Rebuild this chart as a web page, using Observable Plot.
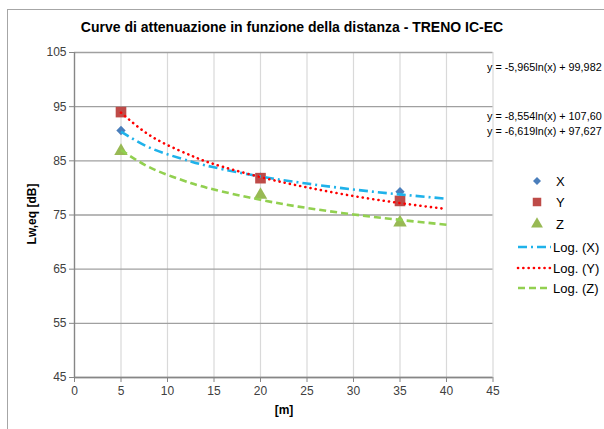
<!DOCTYPE html>
<html><head><meta charset="utf-8">
<script src="https://cdn.jsdelivr.net/npm/d3@7"></script>
<script src="https://cdn.jsdelivr.net/npm/@observablehq/plot@0.6"></script>
<style>
body{margin:0;background:#fff;font-family:"Liberation Sans",Arial,sans-serif;}
#wrap{position:relative;width:604px;height:429px;overflow:hidden;background:#fff;}
#frame{position:absolute;left:7px;top:9px;width:700px;height:500px;border:1.5px solid #a6a6a6;box-sizing:border-box;}
#chart{position:absolute;left:0;top:0;}
#title{position:absolute;left:0;width:584px;top:19px;text-align:center;font-weight:bold;font-size:14px;color:#000;white-space:nowrap;}
#ylab{position:absolute;left:32px;top:214px;transform:translate(-50%,-50%) rotate(-90deg);font-weight:bold;font-size:12px;white-space:nowrap;}
#xlab{position:absolute;left:284px;top:410px;transform:translate(-50%,-50%);font-weight:bold;font-size:12px;}
.eq{position:absolute;left:487px;font-size:10.8px;white-space:nowrap;color:#000;transform:translateY(-50%);}
.leg{position:absolute;left:0;top:0;}
.legtext{position:absolute;font-size:13px;white-space:nowrap;transform:translateY(-50%);}
</style></head><body>
<div id="wrap">
  <div id="frame"></div>
  <div id="chart"></div>
  <div id="title"></div>
  <div id="ylab"></div>
  <div id="xlab"></div>
  <div id="eqs"></div>
  <div id="legend"></div>
</div>
<script>
const titleText = "Curve di attenuazione in funzione della distanza - TRENO IC-EC";
const yLabel = "Lw,eq [dB]";
const xLabel = "[m]";
const xTicks = [0,5,10,15,20,25,30,35,40,45];
const yTicks = [45,55,65,75,85,95,105];

const distances = [5, 20, 35];
const seriesX = [90.6, 82.0, 79.3];
const seriesY = [94.0, 81.8, 77.6];
const seriesZ = [86.8, 78.7, 73.6];

const trendDistances = [5, 7.5, 10, 12.5, 15, 20, 25, 30, 35, 40];
const trendX = [90.4, 87.9, 86.2, 84.9, 83.8, 82.1, 80.8, 79.7, 78.8, 78.0];
const trendY = [93.9, 90.4, 87.9, 86.0, 84.4, 82.0, 80.1, 78.5, 77.2, 76.1];
const trendZ = [87.0, 84.3, 82.4, 80.9, 79.7, 77.8, 76.3, 75.1, 74.1, 73.2];

const equations = ["y = -5,965ln(x) + 99,982", "y = -8,554ln(x) + 107,60", "y = -6,619ln(x) + 97,627"];
const seriesNames = ["X", "Y", "Z"];
const trendNames = ["Log. (X)", "Log. (Y)", "Log. (Z)"];

const markerColors = ["#4a7ebb", "#be4b48", "#98b954"];
const markerSymbols = ["diamond2", "square", "triangle"];
const markerR = [4.2, 6.0, 5.0];
const lineColors = ["#1fb2ea", "#ff0000", "#92d050"];
const lineDash = ["9,4,2,4", "0.1,5.2", "7,4"];

const pts = (ys) => distances.map((d, i) => ({x: d, y: ys[i]}));
const tr = (ys) => trendDistances.map((d, i) => ({x: d, y: ys[i]}));
const ptSets = [pts(seriesX), pts(seriesY), pts(seriesZ)];
const trSets = [tr(trendX), tr(trendY), tr(trendZ)];

const marks = [
  Plot.gridX(xTicks.slice(1), {stroke: "#d9d9d9", strokeOpacity: 1, strokeWidth: 1.2}),
  Plot.gridY(yTicks, {stroke: "#a0a0a0", strokeOpacity: 1, strokeWidth: 1.4}),
  Plot.ruleX([0], {stroke: "#868686", strokeWidth: 1.4}),
  Plot.ruleY([45], {stroke: "#868686", strokeWidth: 1.4}),
  Plot.axisX(xTicks, {tickSize: 5, tickPadding: 4, stroke: "#868686", fill: "#404040", fontSize: 12, label: null}),
  Plot.axisY(yTicks, {tickSize: 5, tickPadding: 3, stroke: "#868686", fill: "#404040", fontSize: 12, label: null}),
];
[0,1,2].forEach(i => {
  marks.push(Plot.dot(ptSets[i], {x: "x", y: "y", symbol: () => markerSymbols[i], r: markerR[i], fill: markerColors[i], stroke: "none"}));
});
[0,1,2].forEach(i => {
  marks.push(Plot.line(trSets[i], {x: "x", y: "y", curve: "natural", stroke: lineColors[i], strokeWidth: 2.6, strokeDasharray: lineDash[i], strokeLinecap: i === 1 ? "round" : "butt"}));
});

const chart = Plot.plot({
  width: 604, height: 429,
  marginLeft: 74, marginRight: 111.5, marginTop: 52, marginBottom: 52,
  style: {fontFamily: "Liberation Sans, Arial, sans-serif", background: "transparent"},
  x: {domain: [0, 45], label: null},
  y: {domain: [45, 105], label: null},
  symbol: {type: "identity"},
  marks
});
document.getElementById("chart").append(chart);
document.getElementById("title").textContent = titleText;
document.getElementById("ylab").textContent = yLabel;
document.getElementById("xlab").textContent = xLabel;

const eqY = [67, 116, 131];
const eqDiv = document.getElementById("eqs");
equations.forEach((e, i) => {
  const d = document.createElement("div");
  d.className = "eq"; d.style.top = eqY[i] + "px"; d.textContent = e;
  eqDiv.append(d);
});

// legend
const legY = [181, 202, 224, 247, 268, 288];
const legDiv = document.getElementById("legend");
const ns = "http://www.w3.org/2000/svg";
const svg = document.createElementNS(ns, "svg");
svg.setAttribute("width", 604); svg.setAttribute("height", 429);
svg.setAttribute("class", "leg");
svg.style.position = "absolute";
[0,1,2].forEach(i => {
  const p = document.createElementNS(ns, "path");
  const sym = [d3.symbolDiamond2, d3.symbolSquare, d3.symbolTriangle][i];
  const size = [Math.PI*3.6*3.6, Math.PI*4.8*4.8, Math.PI*4.4*4.4][i];
  p.setAttribute("d", d3.symbol(sym, size)());
  p.setAttribute("transform", `translate(537,${legY[i]})`);
  p.setAttribute("fill", markerColors[i]);
  svg.append(p);
  const l = document.createElementNS(ns, "line");
  l.setAttribute("x1", 518); l.setAttribute("x2", 551);
  l.setAttribute("y1", legY[i+3]); l.setAttribute("y2", legY[i+3]);
  l.setAttribute("stroke", lineColors[i]); l.setAttribute("stroke-width", 2.6);
  l.setAttribute("stroke-dasharray", lineDash[i]);
  if (i === 1) l.setAttribute("stroke-linecap", "round");
  svg.append(l);
});
legDiv.append(svg);
[0,1,2].forEach(i => {
  const t = document.createElement("div");
  t.className = "legtext"; t.style.left = "556px"; t.style.top = legY[i] + "px";
  t.textContent = seriesNames[i]; legDiv.append(t);
  const t2 = document.createElement("div");
  t2.className = "legtext"; t2.style.left = "553px"; t2.style.top = legY[i+3] + "px";
  t2.textContent = trendNames[i]; legDiv.append(t2);
});
</script>
</body></html>
